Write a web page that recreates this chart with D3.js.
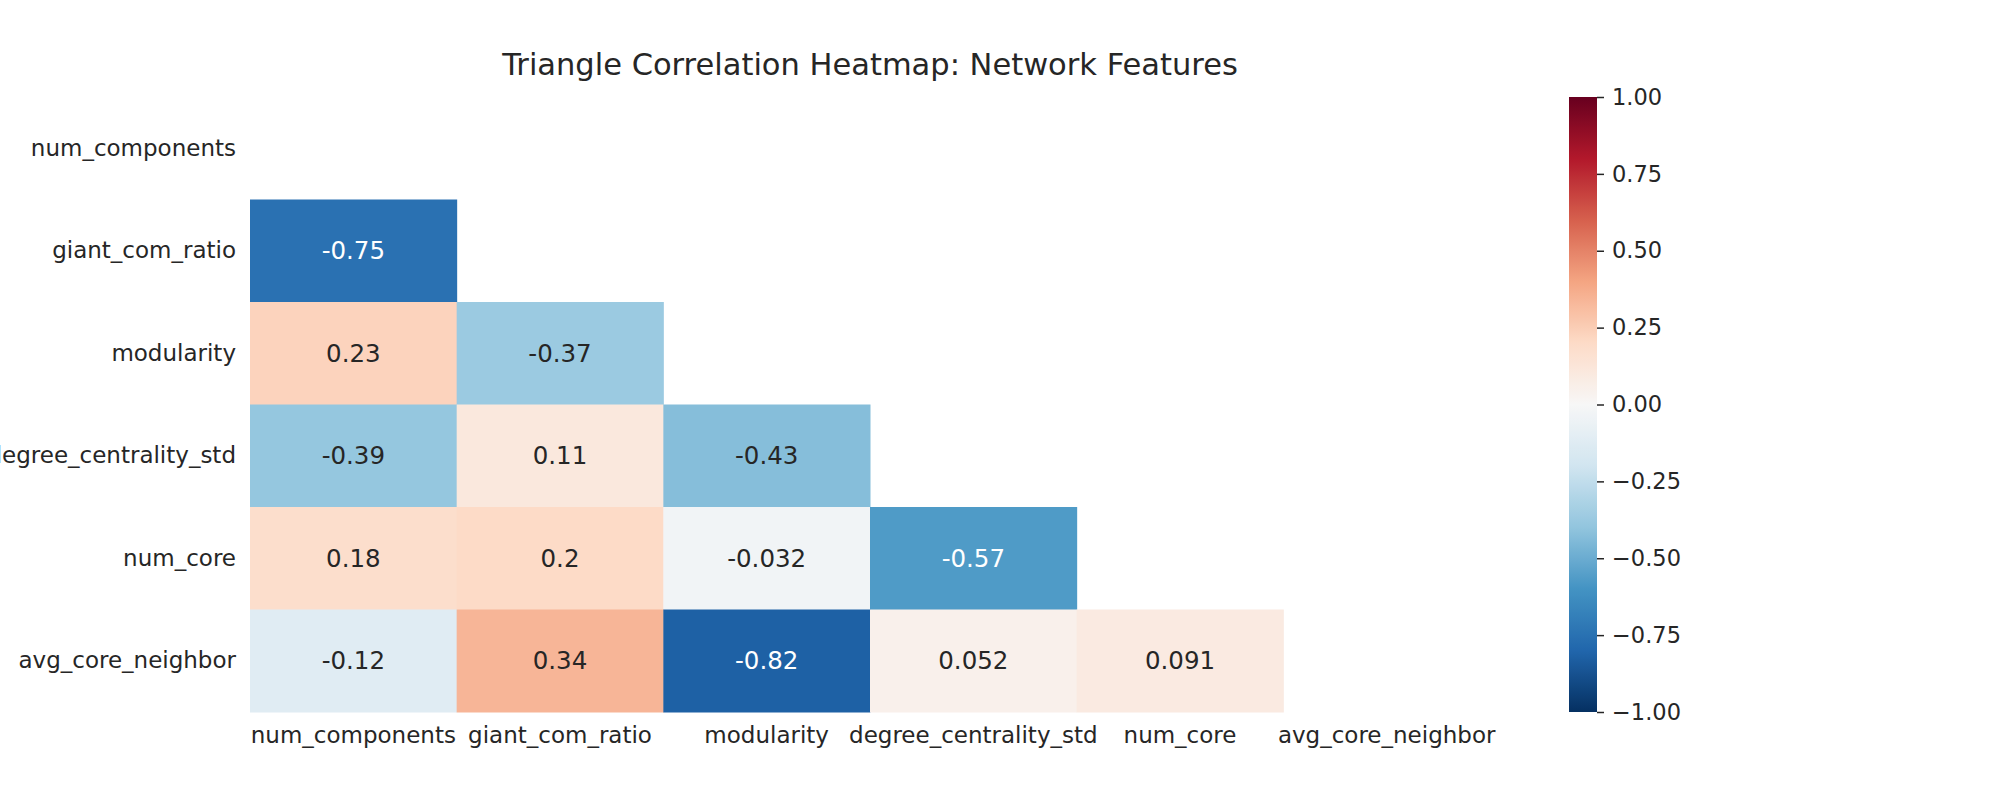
<!DOCTYPE html>
<html>
<head>
<meta charset="utf-8">
<script src="https://cdn.jsdelivr.net/npm/d3@7"></script>
<style>
  html, body { margin: 0; padding: 0; background: #ffffff; }
  svg { display: block; font-family: "DejaVu Sans", sans-serif; }
</style>
</head>
<body>
<svg id="chart" width="2000" height="800"></svg>
<script>
// ---- Data ----
const features = ["num_components", "giant_com_ratio", "modularity", "degree_centrality_std", "num_core", "avg_core_neighbor"];
// lower triangle rows (row i has i values, for columns 0..i-1)
const row_giant_com_ratio = [-0.75];
const row_modularity = [0.23, -0.37];
const row_degree_centrality_std = [-0.39, 0.11, -0.43];
const row_num_core = [0.18, 0.2, -0.032, -0.57];
const row_avg_core_neighbor = [-0.12, 0.34, -0.82, 0.052, 0.091];
const lowerRows = [[], row_giant_com_ratio, row_modularity, row_degree_centrality_std, row_num_core, row_avg_core_neighbor];
const colorbarTicks = [1.00, 0.75, 0.50, 0.25, 0.00, -0.25, -0.50, -0.75, -1.00];
const titleText = "Triangle Correlation Heatmap: Network Features";

// matplotlib RdBu_r anchor colours (from -1 to +1)
const rdbuR = ["#053061", "#2166ac", "#4393c3", "#92c5de", "#d1e5f0", "#f7f7f7", "#fddbc7", "#f4a582", "#d6604d", "#b2182b", "#67001f"];

// ---- Build cells ----
const cells = [];
lowerRows.forEach((vals, i) => {
  vals.forEach((v, j) => cells.push({ row: features[i], col: features[j], value: v }));
});

const svg = d3.select("#chart");
const ink = "#262626";

const x = d3.scaleBand().domain(features).range([250, 1490]).padding(0);
const y = d3.scaleBand().domain(features).range([97, 712]).padding(0);

const color = d3.scaleLinear()
  .domain(d3.range(rdbuR.length).map(i => -1 + 2 * i / (rdbuR.length - 1)))
  .range(rdbuR)
  .interpolate(d3.interpolateRgb)
  .clamp(true);

const fmtLocale = d3.formatLocale({ decimal: ".", thousands: ",", grouping: [3], currency: ["$", ""], minus: "-" });
const annotFmt = fmtLocale.format(".2~g");

function textColor(v) {
  const c = d3.rgb(color(v));
  const lin = ch => { ch /= 255; return ch <= 0.03928 ? ch / 12.92 : Math.pow((ch + 0.055) / 1.055, 2.4); };
  const lum = 0.2126 * lin(c.r) + 0.7152 * lin(c.g) + 0.0722 * lin(c.b);
  return lum > 0.408 ? ink : "#ffffff";
}

// cells
const g = svg.append("g");
g.selectAll("rect.cell").data(cells).join("rect")
  .attr("class", "cell")
  .attr("x", d => x(d.col))
  .attr("y", d => y(d.row))
  .attr("width", x.bandwidth() + 0.5)
  .attr("height", y.bandwidth() + 0.5)
  .attr("fill", d => color(d.value));

g.selectAll("text.annot").data(cells).join("text")
  .attr("class", "annot")
  .attr("x", d => x(d.col) + x.bandwidth() / 2)
  .attr("y", d => y(d.row) + y.bandwidth() / 2)
  .attr("text-anchor", "middle")
  .attr("dominant-baseline", "central")
  .attr("font-size", 24.5)
  .attr("fill", d => textColor(d.value))
  .text(d => annotFmt(d.value));

// axes
const yAxis = svg.append("g").attr("transform", "translate(250,0)")
  .call(d3.axisLeft(y).tickSize(0).tickPadding(14));
yAxis.select(".domain").remove();
yAxis.selectAll("text").attr("font-size", 23).attr("fill", ink).attr("font-family", "DejaVu Sans");

const xAxis = svg.append("g").attr("transform", "translate(0,712)")
  .call(d3.axisBottom(x).tickSize(0).tickPadding(15));
xAxis.select(".domain").remove();
xAxis.selectAll("text").attr("font-size", 23).attr("fill", ink).attr("font-family", "DejaVu Sans");

// title
svg.append("text")
  .attr("x", (x.range()[0] + x.range()[1]) / 2)
  .attr("y", 75)
  .attr("text-anchor", "middle")
  .attr("font-size", 30.5)
  .attr("fill", ink)
  .text(titleText);

// colorbar
const cbX = 1569, cbW = 28;
const cbScale = d3.scaleLinear().domain([-1, 1]).range([712, 97]);
const defs = svg.append("defs");
const grad = defs.append("linearGradient").attr("id", "cbgrad")
  .attr("x1", "0").attr("y1", "1").attr("x2", "0").attr("y2", "0");
grad.selectAll("stop").data(d3.range(0, 101)).join("stop")
  .attr("offset", d => d + "%")
  .attr("stop-color", d => color(-1 + 2 * d / 100));
svg.append("rect")
  .attr("x", cbX).attr("y", cbScale(1))
  .attr("width", cbW).attr("height", cbScale(-1) - cbScale(1))
  .attr("fill", "url(#cbgrad)");

const cbAxis = svg.append("g").attr("transform", `translate(${cbX + cbW},0)`)
  .call(d3.axisRight(cbScale).tickValues(colorbarTicks).tickFormat(d3.format(".2f")).tickSize(7).tickPadding(8));
cbAxis.select(".domain").remove();
cbAxis.selectAll("line").attr("stroke", ink).attr("stroke-width", 1.5);
cbAxis.selectAll("text").attr("font-size", 22.5).attr("fill", ink).attr("font-family", "DejaVu Sans");
</script>
</body>
</html>
